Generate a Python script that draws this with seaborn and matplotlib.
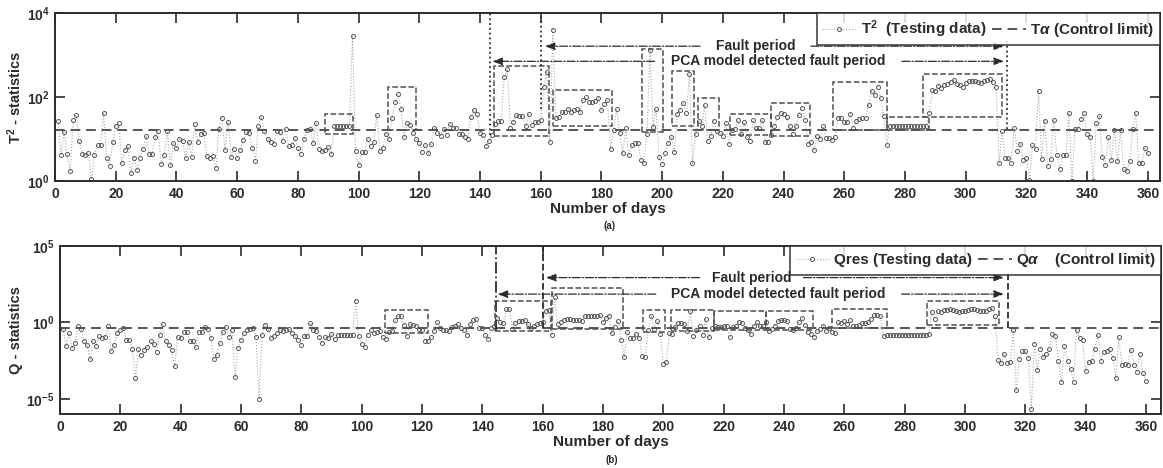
import matplotlib.pyplot as plt
from matplotlib.patches import Rectangle
from matplotlib.ticker import NullLocator
import numpy as np
import pandas as pd
import seaborn as sns

# ---------------------------------------------------------------------------
# Data (stored as log10 exponents)
# ---------------------------------------------------------------------------
DAYS = list(range(1, 361))

T2_LOG = [
    1.42, 0.62, 1.16, 0.64, 0.25, 1.46, 1.58, 0.96, 0.65, 0.62,
    0.67, 0.04, 0.61, 0.86, 0.85, 1.61, 0.54, 0.36, 0.92, 1.32,
    1.38, 0.42, 0.73, 0.84, 0.20, 0.56, 0.27, 0.55, 0.76, 1.06,
    0.64, 0.64, 1.04, 1.18, 0.41, 0.62, 1.18, 0.37, 0.91, 0.79,
    1.00, 0.96, 0.56, 0.94, 0.58, 1.35, 0.92, 1.11, 1.15, 0.59,
    0.55, 0.59, 0.30, 1.24, 1.50, 0.74, 1.41, 0.58, 0.77, 0.55,
    0.74, 0.98, 1.16, 1.14, 0.78, 0.48, 1.31, 1.53, 1.18, 1.01,
    0.94, 0.89, 1.20, 1.16, 0.96, 1.24, 0.83, 0.85, 1.03, 0.78,
    0.65, 1.00, 1.22, 1.23, 0.90, 1.38, 0.77, 0.71, 0.74, 0.80,
    0.64, 1.32, 1.32, 1.32, 1.32, 1.32, 1.32, 3.45, 0.72, 0.39,
    0.69, 0.70, 1.00, 0.84, 0.92, 1.58, 0.72, 0.79, 1.13, 1.00,
    1.49, 1.87, 2.07, 1.72, 1.04, 1.37, 1.34, 1.15, 1.01, 0.91,
    0.70, 0.85, 0.66, 0.89, 1.26, 1.15, 1.08, 1.23, 1.10, 1.36,
    1.27, 1.26, 1.11, 1.11, 1.05, 1.00, 1.53, 1.68, 1.60, 1.15,
    1.10, 0.84, 0.96, 1.10, 1.35, 1.42, 1.43, 2.47, 2.67, 1.27,
    1.41, 1.56, 1.54, 1.54, 1.30, 1.60, 1.34, 1.41, 1.41, 1.45,
    2.25, 2.59, 0.93, 3.60, 1.49, 1.53, 1.64, 1.64, 1.72, 1.64,
    1.68, 1.71, 1.64, 1.92, 1.99, 1.88, 1.88, 1.91, 1.97, 1.68,
    1.83, 1.93, 0.77, 1.21, 1.72, 1.15, 0.66, 1.26, 0.62, 0.85,
    0.91, 0.91, 0.50, 0.43, 1.11, 3.11, 1.29, 1.72, 0.58, 0.40,
    0.66, 0.91, 1.04, 0.70, 1.60, 1.70, 1.86, 1.63, 2.55, 0.42,
    1.11, 1.43, 1.31, 1.80, 0.96, 1.07, 1.43, 1.19, 1.14, 1.08,
    1.37, 0.87, 1.21, 1.25, 1.45, 1.13, 1.41, 1.05, 0.96, 1.45,
    1.26, 1.26, 1.46, 0.93, 0.93, 1.10, 1.30, 1.53, 1.62, 1.60,
    1.53, 1.32, 1.13, 1.30, 1.57, 1.75, 1.46, 0.87, 0.93, 0.74,
    1.08, 1.01, 1.30, 1.03, 1.03, 0.97, 1.04, 1.51, 1.49, 1.40,
    1.40, 1.60, 1.27, 1.43, 1.48, 1.49, 1.49, 1.82, 2.14, 2.04,
    2.25, 1.97, 1.54, 0.85, 1.32, 1.32, 1.32, 1.32, 1.32, 1.32,
    1.32, 1.32, 1.32, 1.32, 1.32, 1.32, 1.32, 1.63, 2.17, 2.14,
    2.27, 2.22, 2.28, 2.32, 2.36, 2.40, 2.32, 2.28, 2.25, 2.33,
    2.37, 2.39, 2.37, 2.36, 2.33, 2.37, 2.41, 2.44, 2.35, 2.24,
    0.43, 1.18, 0.55, 0.55, 0.43, 1.27, 0.72, 0.88, 0.50, 0.55,
    0.02, 0.85, 0.76, 2.15, 0.53, 1.44, 0.36, 0.53, 1.46, 0.62,
    0.28, 0.62, 0.62, 1.62, 0.01, 1.23, 1.23, 1.47, 1.63, 1.11,
    1.05, 0.01, 1.38, 1.54, 0.58, 0.38, 1.05, 0.50, 1.21, 0.48,
    1.21, 0.29, 0.23, 0.47, 1.24, 1.62, 0.43, 0.43, 0.78, 0.66,
]

Q_LOG = [
    -0.43, -1.57, -0.70, -1.70, -1.35, -0.26, -0.43, -1.24, -1.46, -2.43,
    -1.22, -1.52, -0.91, -1.04, -0.96, -0.26, -1.89, -1.46, -0.67, -0.52,
    -0.39, -1.13, -1.13, -1.72, -3.63, -1.74, -2.15, -1.78, -1.61, -1.24,
    -1.41, -1.91, -0.80, -0.13, -1.20, -1.50, -1.83, -2.89, -0.98, -1.02,
    -0.65, -0.63, -1.24, -1.24, -1.61, -0.61, -0.61, -0.33, -0.43, -1.04,
    -2.39, -2.11, -1.35, -0.63, -0.33, -0.98, -0.52, -3.57, -1.67, -1.13,
    -0.72, -0.48, -0.41, -0.39, -0.96, -5.04, -0.83, -0.15, -0.41, -1.04,
    -0.87, -0.70, -0.48, -0.59, -0.52, -0.43, -0.70, -0.87, -1.13, -1.48,
    -0.87, -0.91, -0.04, -0.48, -0.59, -0.96, -1.35, -0.98, -1.02, -0.76,
    -1.09, -0.80, -0.80, -0.80, -0.80, -0.80, -0.80, 1.43, -0.87, -1.39,
    -1.63, -0.80, -0.50, -0.70, -0.61, -0.59, -0.96, -1.09, -0.65, -0.59,
    0.17, 0.39, 0.39, -0.15, -0.87, -0.13, -0.20, -0.22, -0.41, -0.48,
    -1.24, -1.20, -0.98, -0.59, 0.00, -0.39, -0.48, -0.52, -0.59, -0.33,
    -0.26, -0.11, -0.39, -0.52, -0.80, -0.09, 0.13, 0.24, -0.37, -0.39,
    -0.80, -1.07, -0.39, -0.26, 0.28, 0.02, -0.04, 0.89, 0.89, -0.41,
    -0.04, 0.07, 0.07, 0.17, -0.11, -0.37, -0.26, -0.11, -0.04, 0.04,
    0.72, 0.83, -0.85, 1.63, -0.09, 0.04, 0.17, 0.22, 0.22, 0.17,
    0.13, 0.13, 0.09, 0.43, 0.43, 0.43, 0.43, 0.43, 0.50, 0.04,
    0.28, 0.43, -0.72, -0.30, 0.07, -1.13, -2.26, -0.65, -1.02, -1.04,
    -0.74, -1.02, -2.22, -2.26, -0.48, 0.43, -0.41, 0.07, -0.74, -2.70,
    -2.61, -0.72, -0.74, -0.33, -0.04, -0.04, -0.11, -0.57, 0.72, -0.91,
    -0.48, -0.26, -0.80, 0.22, -0.96, -0.37, -0.26, -0.30, -0.33, -0.26,
    -0.26, -0.98, -0.30, -0.26, 0.02, -0.04, -0.39, -0.48, -0.74, -0.26,
    0.00, -0.26, -0.26, 0.00, -0.59, -0.43, -0.26, 0.07, 0.13, 0.13,
    0.07, -0.43, -0.48, -0.37, 0.00, 0.28, -0.15, -0.65, -0.74, -0.96,
    -0.54, -0.43, -0.22, -0.59, -0.37, -0.65, -0.70, 0.00, -0.04, 0.07,
    -0.09, 0.13, -0.26, -0.26, -0.15, -0.04, -0.04, 0.00, 0.22, 0.50,
    0.50, 0.43, -0.91, -0.80, -0.80, -0.80, -0.80, -0.80, -0.80, -0.80,
    -0.80, -0.80, -0.80, -0.80, -0.80, -0.80, -0.80, -0.74, 0.65, 0.24,
    0.72, 0.65, 0.78, 0.83, 0.87, 0.83, 0.72, 0.67, 0.72, 0.76,
    0.83, 0.87, 0.87, 0.78, 0.76, 0.72, 0.76, 0.87, 0.93, 0.39,
    -2.48, -2.65, -2.04, -2.65, -2.61, -0.52, -4.46, -2.43, -1.89, -1.89,
    -2.33, -5.70, -1.39, -3.09, -1.72, -2.26, -2.09, -1.72, -0.74, -0.91,
    -2.50, -3.91, -1.57, -2.54, -3.04, -3.91, -0.52, -1.02, -1.17, -3.20,
    -2.59, -2.54, -1.74, -0.80, -2.50, -1.93, -1.89, -1.72, -2.33, -3.63,
    -0.98, -2.76, -2.72, -2.76, -1.83, -2.76, -3.24, -2.07, -3.30, -3.87,
]

T_ALPHA_LOG = 1.225
Q_ALPHA_LOG = -0.35

# dashed highlight boxes: (day_start, day_end, log_low, log_high)
T2_BOXES = [
    (89.0, 98.0, 1.13, 1.60), (109.7, 119.0, 1.22, 2.25),
    (144.7, 162.6, 1.07, 2.73), (163.9, 183.4, 1.30, 2.17),
    (193.3, 200.2, 1.17, 3.15), (203.2, 210.5, 1.30, 2.63),
    (211.8, 218.7, 1.21, 1.98), (222.3, 236.0, 1.09, 1.60),
    (235.8, 248.8, 1.07, 1.86), (256.4, 274.0, 1.21, 2.36),
    (274.0, 288.0, 1.21, 1.53), (285.8, 311.9, 1.53, 2.54),
]
Q_BOXES = [
    (107.8, 122.0, -0.70, 0.83), (144.3, 162.8, -0.59, 1.37),
    (163.1, 186.6, -0.43, 2.24), (193.2, 200.5, -0.65, 0.83),
    (202.7, 216.8, -0.59, 0.83), (216.8, 234.0, -0.48, 0.76),
    (234.0, 249.6, -0.48, 0.76), (256.0, 274.3, -0.37, 0.87),
    (287.3, 311.4, -0.20, 1.43),
]

# vertical markers: (day, log_low, log_high, linestyle)
T2_VLINES = [(143.4, 1.10, 4.0, ":"), (160.0, 1.72, 4.0, ":"), (313.5, 1.23, 3.34, ":")]
Q_VLINES = [(144.5, -0.59, 5.0, "-."), (160.0, -0.35, 5.0, "--"), (314.2, -0.35, 3.39, "--")]

# annotation arrows: (text, text_day, log_y, left_tip, left_tail, right_tail, right_tip)
T2_ARROWS = [
    ("Fault period", 230.7, 3.21, 161.3, 212.5, 249.0, 312.7),
    ("PCA model detected fault period", 238.3, 2.85, 144.0, 197.5, 279.0, 312.7),
]
Q_ARROWS = [
    ("Fault period", 229.2, 2.93, 161.0, 212.0, 246.5, 313.0),
    ("PCA model detected fault period", 238.0, 1.85, 145.0, 197.5, 279.0, 313.0),
]

# ---------------------------------------------------------------------------
# Style
# ---------------------------------------------------------------------------
sns.set_theme(style="ticks")
plt.rcParams.update({
    "font.family": ["Liberation Sans", "DejaVu Sans"],
    "font.weight": "bold",
    "mathtext.fontset": "custom",
    "mathtext.rm": "Liberation Sans:bold",
    "mathtext.bf": "Liberation Sans:bold",
    "mathtext.it": "Liberation Sans:italic",
    "axes.labelweight": "bold",
})

LINE_GRAY = "#aaaaaa"
MARK_GRAY = "#5a5a5a"
DARK = "#2b2b2b"
BOX_GRAY = "#505050"

df = pd.DataFrame({
    "day": DAYS,
    "t2": np.power(10.0, T2_LOG),
    "q": np.power(10.0, Q_LOG),
})

fig = plt.figure(figsize=(11.63, 4.68), dpi=100)
ax_t = fig.add_axes([0.0473, 0.6132, 0.9501, 0.3590])
ax_q = fig.add_axes([0.0516, 0.1154, 0.9467, 0.3590])


def draw_panel(ax, col, alpha_log, boxes, vlines, arrows, data_label, lim_label,
               xlim, ylim, yticks, ylabel):
    ax.set_yscale("log")
    sns.lineplot(
        data=df, x="day", y=col, ax=ax, color=LINE_GRAY, linewidth=0.8,
        linestyle=":", marker="o", markersize=2.9, markerfacecolor="none",
        markeredgecolor=MARK_GRAY, markeredgewidth=0.7, label=data_label,
    )
    ax.axhline(10 ** alpha_log, color="#555555", linestyle="--", linewidth=1.4,
               dashes=(5, 3), label=lim_label)

    for x0, x1, lo, hi in boxes:
        ax.add_patch(Rectangle((x0, 10 ** lo), x1 - x0, 10 ** hi - 10 ** lo,
                               fill=False, edgecolor=BOX_GRAY, linestyle="--",
                               linewidth=1.1, zorder=3))
    for x, lo, hi, ls in vlines:
        ax.vlines(x, 10 ** lo, 10 ** hi, colors=DARK, linestyles=ls, linewidth=1.3)

    arrow_kw = dict(arrowstyle="-|>,head_length=0.5,head_width=0.18",
                    color=DARK, linestyle="-.", linewidth=0.9,
                    shrinkA=0, shrinkB=0)
    for text, tx, ly, ltip, ltail, rtail, rtip in arrows:
        y = 10 ** ly
        ax.text(tx, y, text, ha="center", va="center", fontsize=10,
                fontweight="bold", color=DARK)
        ax.annotate("", xy=(ltip, y), xytext=(ltail, y), arrowprops=arrow_kw)
        ax.annotate("", xy=(rtip, y), xytext=(rtail, y), arrowprops=arrow_kw)

    ax.set_xlim(*xlim)
    ax.set_ylim(*ylim)
    ax.set_xticks(range(0, 361, 20))
    ax.set_yticks(yticks)
    ax.yaxis.set_minor_locator(NullLocator())
    ax.tick_params(direction="in", length=7, width=1.2, top=True, right=True,
                   labelsize=10, colors=DARK, pad=4)
    for lab in ax.get_xticklabels() + ax.get_yticklabels():
        lab.set_fontweight("bold")
    for sp in ax.spines.values():
        sp.set_color(DARK)
        sp.set_linewidth(1.4)
    ax.set_xlabel("Number of days", fontsize=11, fontweight="bold", color=DARK, labelpad=1)
    ax.set_ylabel(ylabel, fontsize=10.5, fontweight="bold", color=DARK, labelpad=2)

    handles, labels = ax.get_legend_handles_labels()
    leg = ax.legend(handles, labels, loc="upper right", ncol=2, frameon=True,
                    fancybox=False, edgecolor=DARK, borderaxespad=0,
                    handlelength=2.2, handletextpad=0.3, columnspacing=0.4,
                    borderpad=0.35, prop=dict(size=11, weight="bold"))
    leg.get_frame().set_linewidth(1.3)
    for t in leg.get_texts():
        t.set_color(DARK)


draw_panel(ax_t, "t2", T_ALPHA_LOG, T2_BOXES, T2_VLINES, T2_ARROWS,
           "T$^2$  (Testing data)", "T$\\alpha$ (Control limit)",
           (0, 364), (1, 1e4), [1, 1e2, 1e4], "T$^2$ - statistics")
draw_panel(ax_q, "q", Q_ALPHA_LOG, Q_BOXES, Q_VLINES, Q_ARROWS,
           "Qres (Testing data)", "Q$\\alpha$    (Control limit)",
           (0, 365), (1e-6, 1e5), [1e-5, 1, 1e5], "Q - statistics")

fig.text(0.5245, 1 - 226 / 468, "(a)", ha="center", va="center", fontsize=7,
         fontweight="bold", color=DARK)
fig.text(0.5262, 1 - 460 / 468, "(b)", ha="center", va="center", fontsize=7,
         fontweight="bold", color=DARK)

fig.savefig("out.png", dpi=100)
